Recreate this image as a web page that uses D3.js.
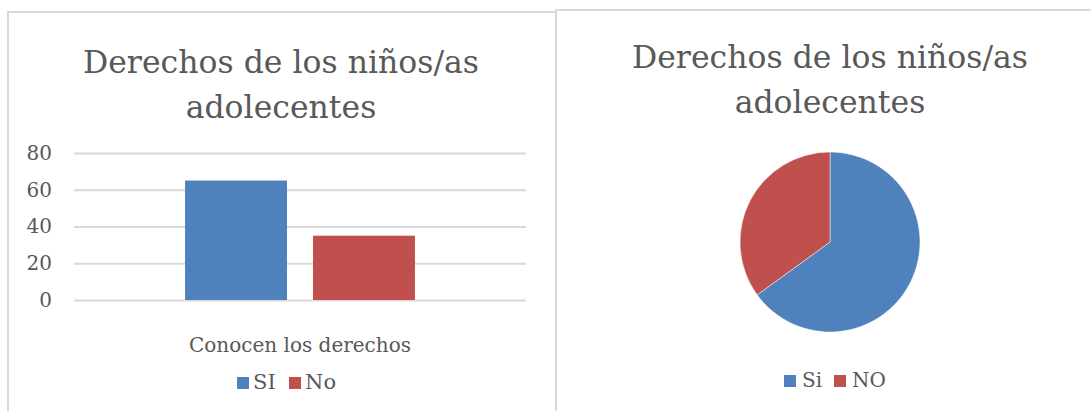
<!DOCTYPE html>
<html>
<head>
<meta charset="utf-8">
<script src="https://cdn.jsdelivr.net/npm/d3@7"></script>
<style>
	body { margin: 0; background: #fff; }
	text { font-family: "DejaVu Serif", serif; fill: #595959; }
</style>
</head>
<body>
<script>
// bar chart data
let barTitle = ["Derechos de los niños/as", "adolecentes"];
let barCategories = ["Conocen los derechos"];
let barSeries = ["SI", "No"];
let barValues = [65, 35];
let yTicks = [0, 20, 40, 60, 80];

// pie chart data
let pieTitle = ["Derechos de los niños/as", "adolecentes"];
let pieLabels = ["Si", "NO"];
let pieValues = [65, 35];

let colors = ["#4f81bd", "#c0504d"];

let width = 1091;
let height = 411;

let svg = d3.select("body").append("svg")
	.attr("width", width)
	.attr("height", height);

// panel borders
svg.append("path")
	.attr("d", "M8,420V12H556V420")
	.attr("fill", "none")
	.attr("stroke", "#d9d9d9")
	.attr("stroke-width", 2);
svg.append("path")
	.attr("d", "M556,420V10H1100")
	.attr("fill", "none")
	.attr("stroke", "#d9d9d9")
	.attr("stroke-width", 2);

// ---- bar chart ----
let left = svg.append("g");

left.selectAll(".title")
	.data(barTitle)
	.enter().append("text")
	.attr("x", 281)
	.attr("y", (d, i) => 73 + i * 45)
	.attr("text-anchor", "middle")
	.style("font-size", "31.5px")
	.text(d => d);

let y = d3.scaleLinear()
	.domain([0, 80])
	.range([300, 153]);

let x0 = d3.scaleBand()
	.domain(barCategories)
	.range([74, 526])
	.paddingInner(0)
	.paddingOuter(0.483);

let x1 = d3.scaleBand()
	.domain(barSeries)
	.range([0, x0.bandwidth()])
	.paddingInner(0.203)
	.paddingOuter(0);

let yAxis = d3.axisLeft(y)
	.tickValues(yTicks)
	.tickSize(-452)
	.tickPadding(22);

let ya = left.append("g")
	.attr("transform", "translate(74,0)")
	.call(yAxis);
ya.select(".domain").remove();
ya.selectAll("line")
	.attr("stroke", "#d9d9d9")
	.attr("stroke-width", 2);
ya.selectAll("text")
	.style("font-size", "20px")
	.attr("fill", "#595959")
	.attr("font-family", "DejaVu Serif");

left.selectAll(".bar")
	.data(barSeries.map((s, i) => ({series: s, value: barValues[i], cat: barCategories[0]})))
	.enter().append("rect")
	.attr("x", d => x0(d.cat) + x1(d.series))
	.attr("y", d => y(d.value))
	.attr("width", x1.bandwidth())
	.attr("height", d => y(0) - y(d.value))
	.attr("fill", (d, i) => colors[i]);

left.selectAll(".cat")
	.data(barCategories)
	.enter().append("text")
	.attr("x", d => x0(d) + x0.bandwidth() / 2)
	.attr("y", 352)
	.attr("text-anchor", "middle")
	.style("font-size", "20px")
	.text(d => d);

let barLegendX = [237, 289];
let bl = left.selectAll(".legend")
	.data(barSeries)
	.enter().append("g")
	.attr("transform", (d, i) => `translate(${barLegendX[i]},377)`);
bl.append("rect")
	.attr("width", 12)
	.attr("height", 12)
	.attr("fill", (d, i) => colors[i]);
bl.append("text")
	.attr("x", 16)
	.attr("y", 12)
	.style("font-size", "21px")
	.text(d => d);

// ---- pie chart ----
let right = svg.append("g");

right.selectAll(".title")
	.data(pieTitle)
	.enter().append("text")
	.attr("x", 830)
	.attr("y", (d, i) => 68 + i * 45)
	.attr("text-anchor", "middle")
	.style("font-size", "31.5px")
	.text(d => d);

let pie = d3.pie().sort(null);
let arc = d3.arc().innerRadius(0).outerRadius(90);

right.append("g")
	.attr("transform", "translate(830,242)")
	.selectAll("path")
	.data(pie(pieValues))
	.enter().append("path")
	.attr("d", arc)
	.attr("fill", (d, i) => colors[i])
	.attr("stroke", "#fff")
	.attr("stroke-width", 0.5);

let pieLegendX = [784, 834];
let pl = right.selectAll(".legend")
	.data(pieLabels)
	.enter().append("g")
	.attr("transform", (d, i) => `translate(${pieLegendX[i]},375)`);
pl.append("rect")
	.attr("width", 12)
	.attr("height", 12)
	.attr("fill", (d, i) => colors[i]);
pl.append("text")
	.attr("x", 18)
	.attr("y", 12)
	.style("font-size", "20px")
	.text(d => d);
</script>
</body>
</html>
